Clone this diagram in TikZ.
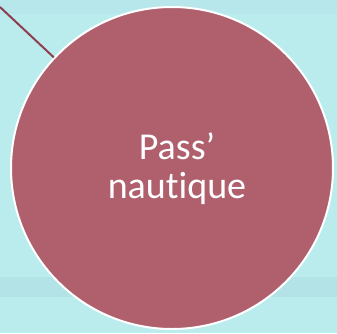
\documentclass[tikz,border=0pt]{standalone}
\usepackage{fontspec}
\setmainfont{Carlito}[Ligatures={NoCommon}]
\definecolor{bg}{HTML}{BAEBED}
\definecolor{band}{HTML}{B3E3E6}
\definecolor{topband}{HTML}{B7E7EA}
\definecolor{rose}{HTML}{B05F6D}
\definecolor{linec}{HTML}{8E3F4D}
\tikzset{
  bubble/.style={circle, fill=rose, draw=white, line width=2pt, minimum size=322pt, inner sep=0pt},
  label/.style={text=white, align=center, font=\fontsize{38}{39}\selectfont},
  connector/.style={draw=linec, line width=2pt}
}
\begin{document}
\begin{tikzpicture}[x=1pt,y=-1pt]
\fill[bg] (0,0) rectangle (337,333);
\fill[topband] (0,0) rectangle (337,14);
\fill[band] (0,277) rectangle (337,297);
\useasboundingbox (0,0) rectangle (337,333);
\coordinate (s) at (0,7);
\node[bubble] (c) at (172,168) {};
\draw[connector] (s) -- (c);
\node[label] (t) at (177,169) {Pass’\\nautique};
\end{tikzpicture}
\end{document}
